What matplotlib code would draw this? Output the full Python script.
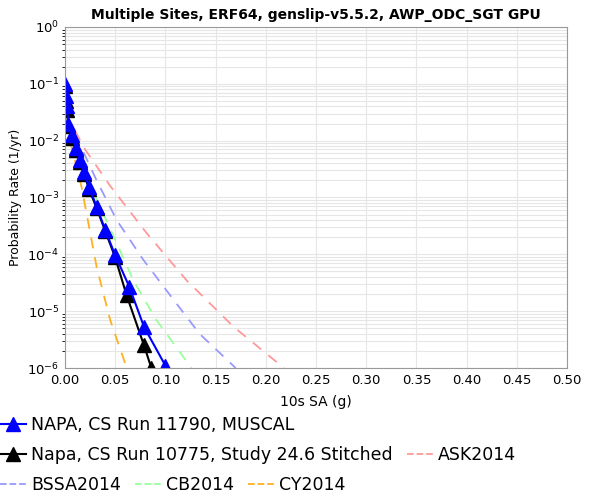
import matplotlib.pyplot as plt
from matplotlib.lines import Line2D

napa_x = [0.0, 0.001, 0.002, 0.0033, 0.0067, 0.011, 0.015, 0.019, 0.024, 0.0315, 0.04, 0.0498, 0.064, 0.0787, 0.1]
napa_y = [0.1, 0.06, 0.04, 0.02, 0.0126, 0.0074, 0.0046, 0.0028, 0.0015, 6.9e-4, 2.7e-4, 9.8e-5, 2.7e-5, 5.3e-6, 1.1e-6]
stud_x = [0.0, 0.001, 0.002, 0.0033, 0.0067, 0.011, 0.015, 0.019, 0.024, 0.0315, 0.04, 0.0498, 0.0614, 0.0787, 0.086]
stud_y = [0.09, 0.05, 0.035, 0.018, 0.011, 0.0068, 0.0042, 0.0026, 0.0014, 6.5e-4, 2.6e-4, 9.0e-5, 1.9e-5, 2.5e-6, 1.0e-6]
ask_x = [0.01, 0.02, 0.045, 0.081, 0.121, 0.168, 0.218]
ask_y = [1.5e-2, 7e-3, 1.6e-3, 2.4e-4, 3.5e-5, 5.3e-6, 1e-6]
bssa_x = [0.01, 0.0315, 0.0515, 0.078, 0.108, 0.134, 0.17]
bssa_y = [1.3e-2, 2e-3, 4e-4, 8e-5, 1.6e-5, 4e-6, 1e-6]
cb_x = [0.01, 0.023, 0.05, 0.068, 0.091, 0.126]
cb_y = [1.1e-2, 2e-3, 1.8e-4, 3.5e-5, 7e-6, 1e-6]
cy_x = [0.005, 0.0166, 0.0315, 0.045, 0.0615]
cy_y = [1e-2, 1.5e-3, 6e-5, 7e-6, 1e-6]

fig = plt.figure(figsize=(6, 5), dpi=100)
ax = fig.add_axes([65/600, 1-368/500, (567-65)/600, (368-27)/500])

ax.plot(ask_x, ask_y, '--', color='#ff9999', lw=1.3, dashes=(6, 5))
ax.plot(bssa_x, bssa_y, '--', color='#9999ff', lw=1.3, dashes=(6, 5))
ax.plot(cb_x, cb_y, '--', color='#99ff99', lw=1.3, dashes=(6, 5))
ax.plot(cy_x, cy_y, '--', color='#ffb020', lw=1.3, dashes=(6, 5))
ax.plot(stud_x, stud_y, '-^', color='black', lw=1.5, ms=10)
ax.plot(napa_x, napa_y, '-^', color='blue', lw=1.5, ms=10)

ax.set_yscale('log')
ax.set_xlim(0, 0.5)
ax.set_ylim(1e-6, 1)
ax.set_xticks([i * 0.05 for i in range(11)])
ax.set_xticklabels(['%.2f' % (i * 0.05) for i in range(11)])
ax.grid(True, which='both', color='#e6e6e6', lw=0.8)
ax.tick_params(labelsize=9.5, length=0, pad=4)
for s in ax.spines.values():
    s.set_color('#999999')
ax.set_xlabel('10s SA (g)', fontsize=10, labelpad=6)
ax.set_ylabel('Probability Rate (1/yr)', fontsize=9)
ax.set_title('Multiple Sites, ERF64, genslip-v5.5.2, AWP_ODC_SGT GPU', fontsize=10, fontweight='bold')

h = [Line2D([], [], color='blue', marker='^', ms=10, lw=1.5),
     Line2D([], [], color='black', marker='^', ms=10, lw=1.5),
     Line2D([], [], color='#ff9999', ls='--', lw=1.3),
     Line2D([], [], color='#9999ff', ls='--', lw=1.3),
     Line2D([], [], color='#99ff99', ls='--', lw=1.3),
     Line2D([], [], color='#ffb020', ls='--', lw=1.3)]
kw = dict(loc='center left', frameon=False, fontsize=12.5, handlelength=1.5,
          handletextpad=0.3, columnspacing=0.8, borderaxespad=0, borderpad=0)
fig.legend(h[:1], ['NAPA, CS Run 11790, MUSCAL'], bbox_to_anchor=(0, 1-425/500), **kw)
fig.legend(h[1:3], ['Napa, CS Run 10775, Study 24.6 Stitched', 'ASK2014'],
           bbox_to_anchor=(0, 1-455/500), ncol=2, **kw)
fig.legend(h[3:], ['BSSA2014', 'CB2014', 'CY2014'], bbox_to_anchor=(0, 1-485/500), ncol=3, **kw)

fig.savefig('out.png')
